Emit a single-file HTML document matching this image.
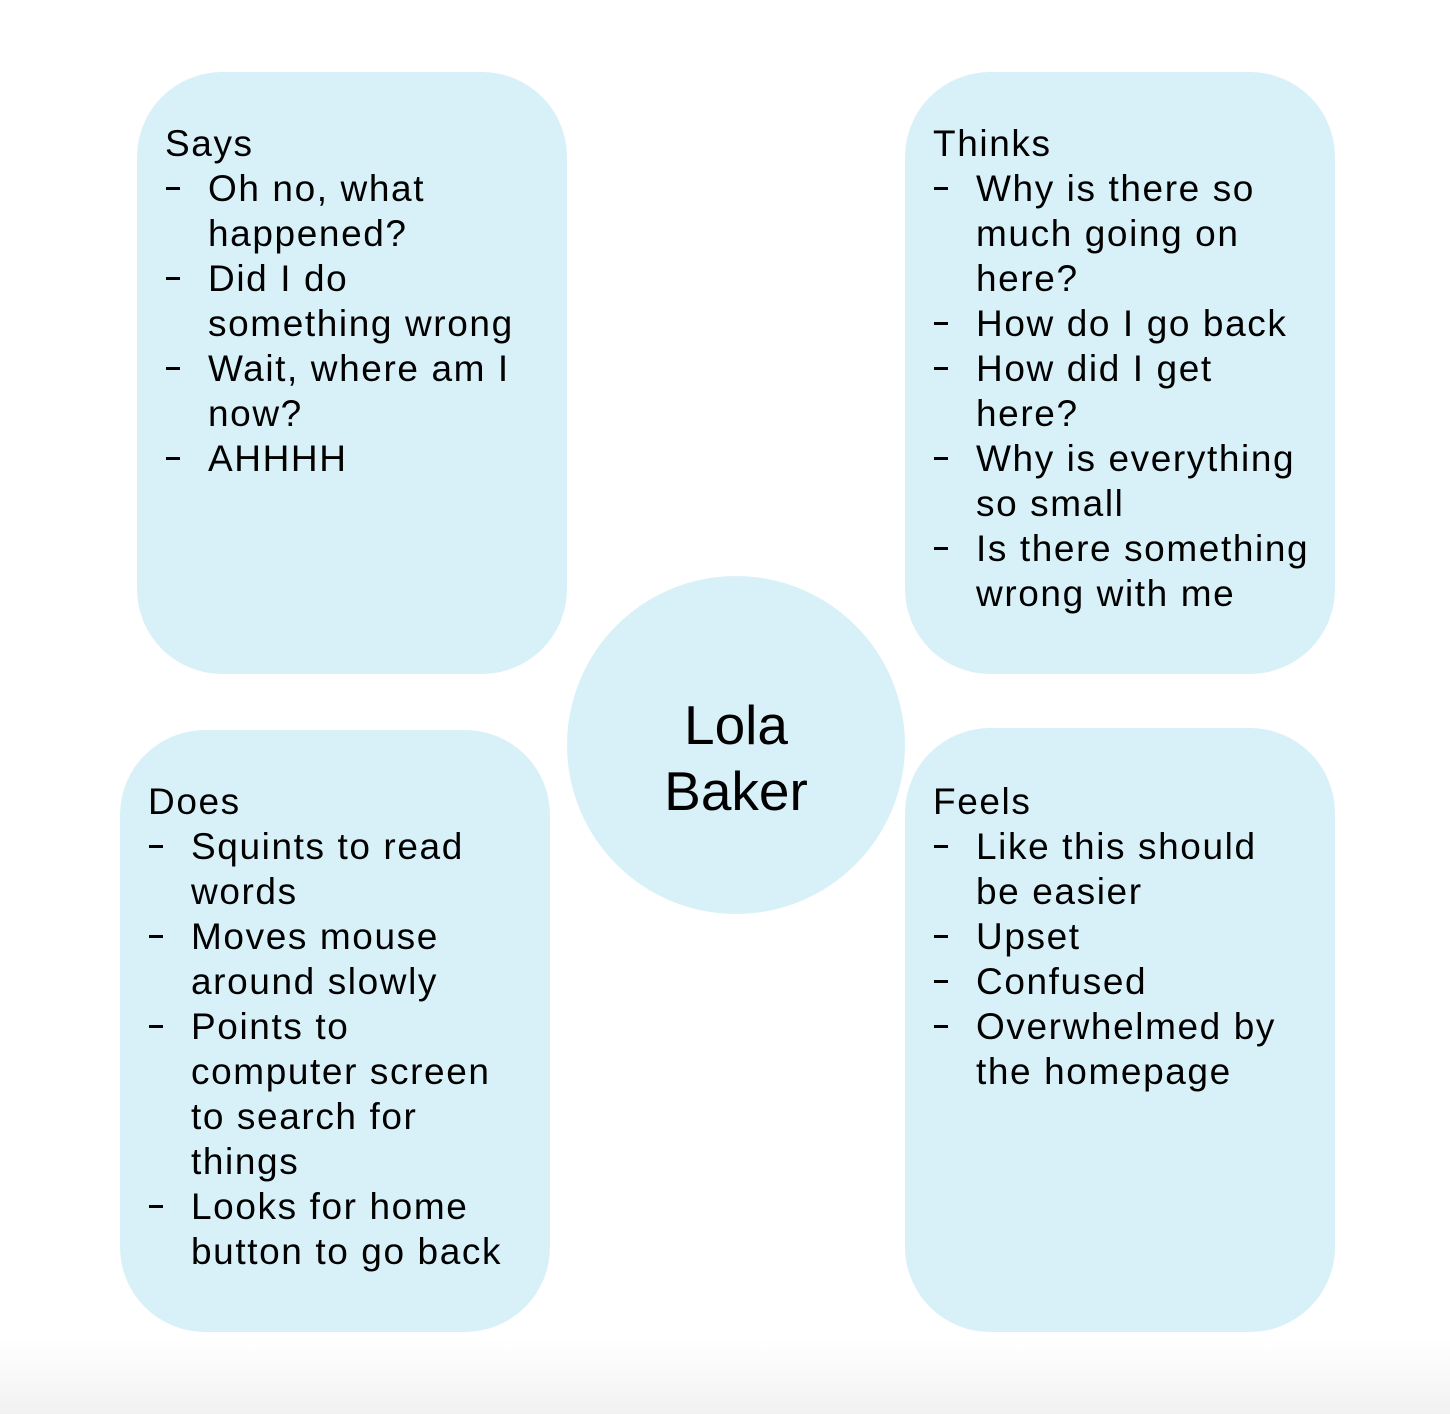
<!DOCTYPE html>
<html><head><style>
body{margin:0;width:1450px;height:1414px;position:relative;overflow:hidden;background:#fff;font-family:"Liberation Sans",Arial,sans-serif;color:#000}
.bg{position:absolute;left:0;top:1340px;width:1450px;height:74px;background:linear-gradient(#fff,#f1f1f1)}
.box{position:absolute;background:#d8f1f8;border-radius:85px}
.t{position:absolute;font-size:37px;line-height:45px;white-space:nowrap;letter-spacing:1.6px}
.t div{height:45px;position:relative}
.t .i{padding-left:43px}
.t .d:before{content:"";position:absolute;left:1px;top:21px;width:14px;height:3px;background:#000}
.c{position:absolute;left:567px;top:576px;width:338px;height:338px;border-radius:50%;background:#d8f1f8}
.n{position:absolute;font-size:55px;width:338px;text-align:center;left:567px;white-space:nowrap}
</style></head><body>
<div class="bg"></div>
<div class="box" style="left:137px;top:72px;width:430px;height:602px"></div>
<div class="box" style="left:905px;top:72px;width:430px;height:602px"></div>
<div class="box" style="left:120px;top:730px;width:430px;height:602px"></div>
<div class="box" style="left:905px;top:728px;width:430px;height:604px"></div>
<div class="c"></div>
<div class="n" style="top:692px;line-height:66px">Lola</div>
<div class="n" style="top:758px;line-height:66px">Baker</div>

<div class="t" style="left:165px;top:121px">
<div>Says</div>
<div class="i d">Oh no, what</div>
<div class="i">happened?</div>
<div class="i d">Did I do</div>
<div class="i">something wrong</div>
<div class="i d">Wait, where am I</div>
<div class="i">now?</div>
<div class="i d">AHHHH</div>
</div>

<div class="t" style="left:933px;top:121px">
<div>Thinks</div>
<div class="i d">Why is there so</div>
<div class="i">much going on</div>
<div class="i">here?</div>
<div class="i d">How do I go back</div>
<div class="i d">How did I get</div>
<div class="i">here?</div>
<div class="i d">Why is everything</div>
<div class="i">so small</div>
<div class="i d">Is there something</div>
<div class="i">wrong with me</div>
</div>

<div class="t" style="left:148px;top:779px">
<div>Does</div>
<div class="i d">Squints to read</div>
<div class="i">words</div>
<div class="i d">Moves mouse</div>
<div class="i">around slowly</div>
<div class="i d">Points to</div>
<div class="i">computer screen</div>
<div class="i">to search for</div>
<div class="i">things</div>
<div class="i d">Looks for home</div>
<div class="i">button to go back</div>
</div>

<div class="t" style="left:933px;top:779px">
<div>Feels</div>
<div class="i d">Like this should</div>
<div class="i">be easier</div>
<div class="i d">Upset</div>
<div class="i d">Confused</div>
<div class="i d">Overwhelmed by</div>
<div class="i">the homepage</div>
</div>
</body></html>
